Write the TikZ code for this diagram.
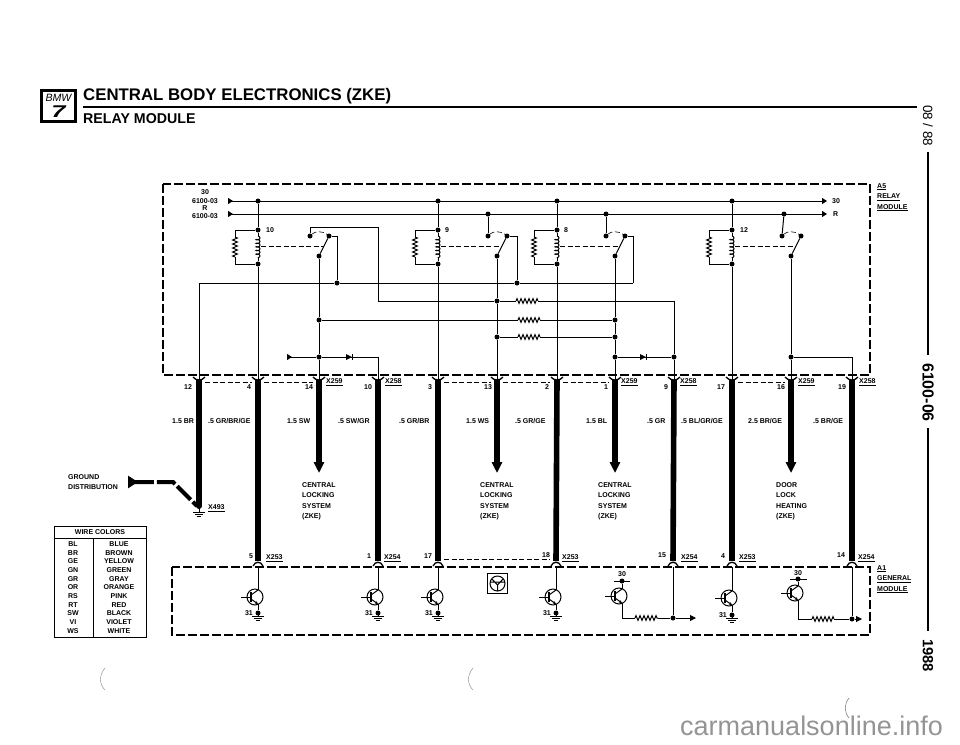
\documentclass[tikz,border=0pt]{standalone}
\usepackage{fontspec}
\setmainfont{Liberation Sans}
\usetikzlibrary{arrows.meta,decorations.pathmorphing}

\newcommand{\relaycoil}[3]{
  \node[jct] (#1a) at (#2,230) {};
  \node[jct] (#1b) at (#2,264) {};
  \node[jct] (#1l) at (#3-9,236) {};
  \node[jct] (#1r) at (#3+10,236) {};
  \node[jct] (#1c) at (#3,256) {};
  \draw[wire] (#1a) -- (#2-23,230) -- (#2-23,237);
  \draw[wire,resi] (#2-23,237) -- (#2-23,257);
  \draw[wire] (#2-23,257) -- (#2-23,264) -- (#1b);
  \draw[wire] (#1a) -- (#2,236);
  \draw[wire,coilw] (#2,236) -- (#2,258);
  \draw[wire] (#2,258) -- (#1b);
  \draw[wire] (#1c) -- (#1r);
  \draw[link] (#2+3,246) -- (#3+4,246);
  \draw[link] (#1l) .. controls (#3-4,231) and (#3+4,231) .. (#1r);
}
\newcommand{\resistor}[4]{
  \coordinate (#1w) at (#2,#4);
  \coordinate (#1e) at (#3,#4);
  \draw[wire,resi] (#1w) -- (#1e);
}
\newcommand{\transist}[3]{
  \coordinate (#1c) at (#2,#3-7);
  \coordinate (#1e) at (#2,#3+7);
  \draw[wire] (#2-3,#3) circle (8);
  \draw[wire] (#2-17,#3) -- (#2-7,#3);
  \draw[line width=1.3pt] (#2-7,#3-5) -- (#2-7,#3+5);
  \draw[wire] (#2-7,#3-2) -- (#1c);
  \draw[wire,-{Stealth[length=3pt,width=3pt]}] (#2-7,#3+2) -- (#1e);
}
\newcommand{\gndmark}[3]{
  \coordinate (#1) at (#2,#3);
  \draw[wire] (#1) -- (#2,#3+3);
  \draw[wire] (#2-6,#3+3) -- (#2+6,#3+3);
  \draw[wire] (#2-4,#3+5) -- (#2+4,#3+5);
  \draw[wire] (#2-2,#3+7) -- (#2+2,#3+7);
}
\newcommand{\diodemark}[2]{
  \fill (#1-5,#2-3) -- (#1+1,#2) -- (#1-5,#2+3) -- cycle;
  \draw[line width=1pt] (#1+1,#2-3) -- (#1+1,#2+3);
}

\begin{document}
\begin{tikzpicture}[x=1pt,y=-1pt,
  wire/.style={line width=1pt},
  link/.style={line width=.6pt,dash pattern=on 5pt off 2.5pt},
  resi/.style={decorate,decoration={zigzag,amplitude=2.4pt,segment length=4pt}},
  coilw/.style={decorate,decoration={coil,amplitude=2pt,segment length=3.6pt,aspect=.5}},
  harness/.style={line width=5.6pt},
  modbox/.style={line width=2.1pt,dash pattern=on 9pt off 3pt},
  jct/.style={circle,fill=black,inner sep=0pt,minimum size=5pt},
  lbl/.style={font=\bfseries\fontsize{7}{10.6}\selectfont,inner sep=0pt,align=left},
  ]
  \useasboundingbox (0,0) rectangle (960,744);

  % title block
  \node[draw,line width=3pt,minimum width=34pt,minimum height=31pt,inner sep=0pt] (logo) at (58.5,106) {};
  \node[inner sep=0pt,font=\itshape\fontsize{10.6}{11}\selectfont] (logob) at (58.5,98) {BMW};
  \node[inner sep=0pt,font=\bfseries\itshape\fontsize{17}{17}\selectfont,xscale=1.5] (logo7) at (58.5,112) {7};
  \node[anchor=west,inner sep=0pt,font=\bfseries\fontsize{16.8}{17}\selectfont] (title) at (83,96) {CENTRAL BODY ELECTRONICS (ZKE)};
  \node[anchor=west,inner sep=0pt,font=\bfseries\fontsize{14.2}{15}\selectfont] (subtitle) at (83,119) {RELAY MODULE};
  \coordinate (ruleL) at (83,107);
  \coordinate (ruleR) at (917,107);
  \draw[line width=1.6pt] (ruleL) -- (ruleR);

  % margin
  \node[rotate=-90,inner sep=0pt,font=\fontsize{13.4}{14}\selectfont] (date) at (928,125.5) {08 / 88};
  \node[rotate=-90,inner sep=0pt,font=\bfseries\fontsize{16}{16}\selectfont] (group) at (928,392.5) {6100-06};
  \node[rotate=-90,inner sep=0pt,font=\bfseries\fontsize{14.8}{15}\selectfont] (year) at (928,655.5) {1988};
  \coordinate (m1) at (927.5,152);
  \coordinate (m2) at (927.5,355);
  \coordinate (m3) at (927.5,428);
  \coordinate (m4) at (927.5,631);
  \draw[line width=2pt] (m1) -- (m2) (m3) -- (m4);

  % module frames
  \coordinate (a5nw) at (163,184);
  \coordinate (a5se) at (870,375);
  \coordinate (a1nw) at (172,567);
  \coordinate (a1se) at (870,635);
  \draw[modbox] (a5nw) rectangle (a5se);
  \draw[modbox] (a1nw) rectangle (a1se);
  \node[lbl,anchor=north west] (a5lab) at (877,183) {\underline{A5}\\\underline{RELAY}\\\underline{MODULE}};
  \node[lbl,anchor=north west] (a1lab) at (877,565) {\underline{A1}\\\underline{GENERAL}\\\underline{MODULE}};

  % feeds
  \foreach \n/\y/\t in {a/192/30,b/201/6100-03,c/208/R,d/216/6100-03}
    \node[lbl] (feed\n) at (205,\y) {\t};
  \node[lbl,anchor=west] (out30) at (832,201) {30};
  \node[lbl,anchor=west] (outR) at (833,214) {R};
  \coordinate (s30) at (228,201);
  \coordinate (e30) at (827,201);
  \coordinate (sR) at (228,214);
  \coordinate (eR) at (827,214);
  \draw[wire,{Triangle[reversed,length=5pt,width=6pt]}-{Triangle[length=5pt,width=6pt]}] (s30) -- (e30);
  \draw[wire,{Triangle[reversed,length=5pt,width=6pt]}-{Triangle[length=5pt,width=6pt]}] (sR) -- (eR);
  \foreach \n/\x in {a/258,b/438,c/557,d/732}
    \node[jct] (v\n) at (\x,201) {};
  \foreach \n/\x in {b/488,c/606,d/784}
    \node[jct] (u\n) at (\x,214) {};

  % relays
  \relaycoil{ra}{258}{319}
  \relaycoil{rb}{438}{497}
  \relaycoil{rc}{557}{615}
  \relaycoil{rd}{732}{791}
  \foreach \n/\x/\t in {a/266/10,b/445/9,c/564/8,d/740/12}
    \node[lbl,anchor=west] (coil\n) at (\x,230) {\t};

  % pins of the relay module
  \foreach \n/\x in {12/199,4/258,14/319,10/378,3/438,13/497,2/557,1/615,9/674,17/732,16/791,19/852} {
    \coordinate (t\n) at (\x,380);
    \draw[line width=1.3pt] (\x-6,377) .. controls (\x-3,381) and (\x+3,381) .. (\x+6,377);
  }
  \foreach \n/\x/\t in {a/188/12,b/249/4,c/309/14,d/368/10,e/430/3,f/488/13,g/547/2,h/606/1,i/666/9,j/721/17,k/781/16,l/842/19}
    \node[lbl] (pin\n) at (\x,387) {\t};
  \foreach \n/\x/\t in {a/326/X259,b/385/X258,c/621/X259,d/680/X258,e/798/X259,f/859/X258}
    \node[lbl,anchor=west] (conn\n) at (\x,382) {\underline{\t}};
  \draw[link] (t12) ++(6,2) -- ++(47,0);
  \draw[link] (t4) ++(6,2) -- ++(49,0);
  \draw[link] (t3) ++(6,2) -- ++(47,0);
  \draw[link] (t13) ++(6,2) -- ++(47,0);
  \draw[link] (t2) ++(6,2) -- ++(46,0);
  \draw[link] (t17) ++(6,2) -- ++(47,0);

  % inside wiring
  \node[jct] (na) at (337,283) {};
  \node[jct] (nb) at (517,283) {};
  \coordinate (nc) at (633,283);
  \node[jct] (oa) at (497,301) {};
  \node[jct] (pa) at (319,320) {};
  \node[jct] (pb) at (615,320) {};
  \node[jct] (qa) at (497,337) {};
  \node[jct] (qb) at (615,337) {};
  \node[jct] (sa) at (319,357) {};
  \node[jct] (sb) at (615,357) {};
  \node[jct] (sc) at (674,357) {};
  \node[jct] (sd) at (791,357) {};
  \coordinate (cra) at (378,227);
  \coordinate (crb) at (378,301);
  \coordinate (crc) at (674,301);
  \coordinate (sfeed) at (287,357);
  \coordinate (dla) at (378,357);
  \coordinate (dlb) at (852,357);
  \resistor{wa}{516}{538}{301}
  \resistor{wb}{518}{540}{320}
  \resistor{wc}{518}{540}{337}

  \draw[wire] (va) -- (raa) (rab) -- (t4);
  \draw[wire] (vb) -- (rba) (rbb) -- (t3);
  \draw[wire] (vc) -- (rca) (rcb) -- (t2);
  \draw[wire] (vd) -- (rda) (rdb) -- (t17);
  \draw[wire] (t12) |- (na) -- (nb) -- (nc);
  \draw[wire] (rar) -| (na);
  \draw[wire] (rbr) -| (nb);
  \draw[wire] (rcr) -| (nc);
  \draw[wire] (ub) -- (rbl);
  \draw[wire] (uc) -- (rcl);
  \draw[wire] (ud) -- (rdl);
  \draw[wire] (ral) |- (cra) -- (crb) -- (oa) -- (waw) (wae) -- (crc) -- (sc) -- (t9);
  \draw[wire] (pa) -- (wbw) (wbe) -- (pb);
  \draw[wire] (qa) -- (wcw) (wce) -- (qb);
  \draw[wire] (rac) -- (pa) -- (sa) -- (t14);
  \draw[wire] (rbc) -- (oa) -- (qa) -- (t13);
  \draw[wire] (rcc) -- (pb) -- (qb) -- (sb) -- (t1);
  \draw[wire] (rdc) -- (sd) -- (t16);
  \draw[wire,{Triangle[reversed,length=5pt,width=6pt]}-] (sfeed) -- (sa);
  \draw[wire] (sa) -- (dla) -- (t10);
  \draw[wire] (sb) -- (sc);
  \draw[wire] (sd) -- (dlb) -- (t19);
  \diodemark{351}{357}
  \diodemark{645}{357}

  % pins of the general module
  \foreach \n/\x in {5/258,1/378,17/438,18/556,15/673,4/732,14/852} {
    \coordinate (h\n) at (\x,561);
    \coordinate (c\n) at (\x,567);
    \draw[line width=1.3pt] (\x-5,566) .. controls (\x-3,561) and (\x+3,561) .. (\x+5,566);
  }
  \foreach \n/\x/\y/\t in {a/251/556/5,b/369/556/1,c/428/556/17,d/546/555/18,e/662/555/15,f/723/556/4,g/841/555/14}
    \node[lbl] (low\n) at (\x,\y) {\t};
  \foreach \n/\x/\t in {a/266/X253,b/384/X254,c/562/X253,d/681/X254,e/739/X253,f/858/X254}
    \node[lbl,anchor=west] (lconn\n) at (\x,558) {\underline{\t}};
  \draw[link] (h17) ++(6,-2) -- ++(106,0);

  % harness
  \coordinate (g1) at (199,506);
  \foreach \n/\x in {14/319,13/497,1/615,16/791}
    \coordinate (arr\n) at (\x,473);
  \draw[harness] (t12) -- (g1);
  \draw[harness] (t4) -- (h5);
  \draw[harness] (t10) -- (h1);
  \draw[harness] (t3) -- (h17);
  \draw[harness] (t2) -- (h18);
  \draw[harness] (t9) -- (h15);
  \draw[harness] (t17) -- (h4);
  \draw[harness] (t19) -- (h14);
  \foreach \n in {14,13,1,16}
    \draw[harness,-{Triangle[length=11pt,width=10pt]}] (t\n) -- (arr\n);

  % wire colours on the harness
  \foreach \n/\x/\t in {a/172/{1.5 BR},b/208/{.5 GR/BR/GE},c/287/{1.5 SW},d/338/{.5 SW/GR},e/399/{.5 GR/BR},f/466/{1.5 WS},g/515/{.5 GR/GE},h/586/{1.5 BL},i/647/{.5 GR},j/681/{.5 BL/GR/GE},k/748/{2.5 BR/GE},l/813/{.5 BR/GE}}
    \node[lbl,anchor=west] (col\n) at (\x,421) {\t};

  % destinations
  \node[lbl,anchor=north west] (desta) at (302,482) {CENTRAL\\LOCKING\\SYSTEM\\(ZKE)};
  \node[lbl,anchor=north west] (destb) at (480,482) {CENTRAL\\LOCKING\\SYSTEM\\(ZKE)};
  \node[lbl,anchor=north west] (destc) at (598,482) {CENTRAL\\LOCKING\\SYSTEM\\(ZKE)};
  \node[lbl,anchor=north west] (destd) at (776,482) {DOOR\\LOCK\\HEATING\\(ZKE)};

  % ground
  \node[lbl,anchor=north west] (gdist) at (68,474) {GROUND\\DISTRIBUTION};
  \coordinate (ga) at (128,482);
  \coordinate (gb) at (173,482);
  \coordinate (gc) at (197,506);
  \draw[line width=4pt,dash pattern=on 19pt off 3pt,{Triangle[reversed,length=10pt,width=12pt]}-] (ga) -- (gb) -- (gc);
  \coordinate (gx) at (199,506);
  \fill (gx) circle (3);
  \draw[wire] (gx) -- (199,512);
  \draw[wire] (193,512) -- (205,512);
  \draw[wire] (195,514) -- (203,514);
  \draw[wire] (197,516) -- (201,516);
  \node[lbl,anchor=west] (x493) at (208,508) {\underline{X493}};

  % wire colour table
  \coordinate (tnw) at (54,526);
  \coordinate (tse) at (146,637);
  \coordinate (thl) at (54,538);
  \coordinate (thr) at (146,538);
  \coordinate (tvt) at (93,538);
  \coordinate (tvb) at (93,637);
  \draw[line width=.8pt] (tnw) rectangle (tse) (thl) -- (thr) (tvt) -- (tvb);
  \node[lbl] (thead) at (100,532) {WIRE COLORS};
  \foreach \i/\y/\a/\b in {a/544/BL/BLUE,b/553/BR/BROWN,c/561/GE/YELLOW,d/570/GN/GREEN,e/579/GR/GRAY,f/587/OR/ORANGE,g/596/RS/PINK,h/605/RT/RED,i/613/SW/BLACK,j/622/VI/VIOLET,k/631/WS/WHITE} {
    \node[lbl] (tl\i) at (73,\y) {\a};
    \node[lbl] (tr\i) at (119,\y) {\b};
  }

  % general module
  \transist{ta}{258}{597}
  \transist{tb}{378}{597}
  \transist{tc}{438}{597}
  \transist{td}{556}{597}
  \transist{te}{622}{596}
  \transist{tf}{732}{598}
  \transist{tg}{798}{593}
  \draw[wire] (c5) -- (tac);
  \draw[wire] (c1) -- (tbc);
  \draw[wire] (c17) -- (tcc);
  \draw[wire] (c18) -- (tdc);
  \draw[wire] (c4) -- (tfc);
  \foreach \n/\m/\x/\y in {a/ta/258/613,b/tb/378/613,c/tc/438/613,d/td/556/613,f/tf/732/615} {
    \gndmark{gr\n}{\x}{\y}
    \node[jct] (grd\n) at (\x,\y) {};
    \draw[wire] (\m e) -- (grd\n);
    \node[lbl,anchor=east] (gl\n) at (\x-5,\y) {31};
  }
  % feed 30
  \node[jct] (fe) at (622,581) {};
  \node[jct] (fg) at (798,579) {};
  \draw[wire] (614,581) -- (630,581);
  \draw[wire] (790,579) -- (807,579);
  \node[lbl] (fel) at (622,574) {30};
  \node[lbl] (fgl) at (798,573) {30};
  \draw[wire] (fe) -- (tec);
  \draw[wire] (fg) -- (tgc);
  \resistor{we}{635}{658}{618}
  \resistor{wg}{812}{834}{619}
  \node[jct] (je) at (673,618) {};
  \node[jct] (jg) at (852,619) {};
  \coordinate (ae) at (696,618);
  \coordinate (ag) at (862,619);
  \draw[wire] (tee) |- (wew) (wee) -- (je);
  \draw[wire] (tge) |- (wgw) (wge) -- (jg);
  \draw[wire] (c15) -- (je);
  \draw[wire] (c14) -- (jg);
  \draw[wire,-{Triangle[length=6pt,width=6pt]}] (je) -- (ae);
  \draw[wire,-{Triangle[length=6pt,width=6pt]}] (jg) -- (ag);

  % solid state symbol
  \node[draw,line width=1.1pt,minimum size=20pt,inner sep=0pt] (ssym) at (497.5,583.5) {};
  \draw[wire] (ssym.center) circle (7.5);
  \draw[wire] (492,579) -- (497.5,585) -- (503,579) (497.5,585) -- (497.5,591) (490,582) -- (505,582);

  % scan marks
  \coordinate (ma) at (105,668);
  \coordinate (mb) at (105,690);
  \coordinate (mc) at (473,668);
  \coordinate (md) at (473,690);
  \coordinate (me) at (849,698);
  \coordinate (mf) at (849,718);
  \draw[line width=.4pt,gray] (ma) .. controls (99,675) and (99,684) .. (mb);
  \draw[line width=.4pt,gray] (mc) .. controls (467,675) and (467,684) .. (md);
  \draw[line width=.6pt,gray] (me) .. controls (844,704) and (844,712) .. (mf);

  \node[anchor=base west,inner sep=0pt,text=black!42,font=\fontsize{27}{27}\selectfont] (mark) at (680,735) {carmanualsonline.info};
\end{tikzpicture}
\end{document}
